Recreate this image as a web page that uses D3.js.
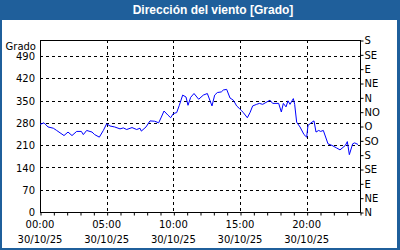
<!doctype html>
<html>
<head>
<meta charset="utf-8">
<script src="https://d3js.org/d3.v7.min.js"></script>
<style>
  body { margin: 0; background: #fff; }
  svg text { font-family: "DejaVu Sans", sans-serif; }
</style>
</head>
<body>
<script>
// hours since 00:00 on 30/10/25
var hours = [0, 0.3, 0.6, 1.0, 1.25, 1.8, 2.1, 2.4, 2.75, 3.1, 3.25, 3.5, 3.9, 4.1, 4.45, 4.75,
  5.0, 5.25, 5.6, 6.0, 6.25, 6.5, 6.9, 7.25, 7.5, 7.6, 7.95, 8.25, 8.6, 8.9, 9.1, 9.3, 9.6, 9.8,
  10.0, 10.25, 10.45, 10.7, 10.95, 11.1, 11.3, 11.55, 11.9, 12.25, 12.55, 12.9, 13.1, 13.3, 13.6,
  13.75, 14.0, 14.25, 14.5, 14.75, 14.95, 15.1, 15.25, 15.55, 15.75, 15.95, 16.25, 16.45, 16.7,
  16.95, 17.25, 17.45, 17.9, 18.1, 18.25, 18.45, 18.6, 18.75, 18.9, 19.0, 19.1, 19.25, 19.5, 19.8,
  20.0, 20.1, 20.4, 20.55, 20.7, 20.9, 21.05, 21.25, 21.6, 21.9, 22.25, 22.5, 22.9, 23.05, 23.2,
  23.45, 23.6, 23.85];
var direction = [275, 280, 267, 263, 256, 240, 251, 240, 253, 253, 243, 256, 251, 243, 235, 256,
  277, 270, 267, 261, 264, 259, 265, 259, 263, 254, 267, 286, 285, 280, 298, 317, 304, 296,
  309, 312, 335, 367, 361, 335, 360, 372, 354, 367, 372, 333, 367, 375, 377,
  383, 385, 358, 351, 333, 325, 319, 312, 296, 312, 333, 338, 341, 338,
  344, 351, 341, 341, 314, 341, 330, 349, 338, 349, 356, 338, 282, 267, 243,
  235, 272, 282, 286, 251, 256, 253, 256, 214, 209, 201, 195, 209, 221, 180,
  214, 217, 212];

var leftTicks = [0, 70, 140, 210, 280, 350, 420, 490];
var rightTicks = [0, 45, 90, 135, 180, 225, 270, 315, 360, 405, 450, 495, 540];
var rightLabels = ["N", "NE", "E", "SE", "S", "SO", "O", "NO", "N", "NE", "E", "SE", "S"];
var timeTicks = [0, 5, 10, 15, 20];
var timeLabels = ["00:00", "05:00", "10:00", "15:00", "20:00"];
var dateLabel = "30/10/25";
var title = "Dirección del viento [Grado]";
var unitLabel = "Grado";

var W = 400, H = 250;
var plot = { left: 40, right: 360, top: 40, bottom: 212 };

var svg = d3.select("body").append("svg")
  .attr("width", W).attr("height", H);

svg.append("rect").attr("width", W).attr("height", H).attr("fill", "#1f5f9b");
svg.append("rect").attr("x", 2).attr("y", 20).attr("width", 395).attr("height", 228).attr("fill", "#fff");

svg.append("text")
  .attr("x", 213).attr("y", 14)
  .attr("text-anchor", "middle")
  .attr("fill", "#fff")
  .style("font-family", "'Liberation Sans', sans-serif")
  .style("font-size", "12px")
  .style("font-weight", "bold")
  .text(title);

var x = d3.scaleLinear().domain([0, 24]).range([plot.left, plot.right]);
var y = d3.scaleLinear().domain([0, 540]).range([plot.bottom, plot.top]);

// grid
svg.append("g").selectAll("line")
  .data(leftTicks.filter(function(d) { return d > 0; }))
  .enter().append("line")
  .attr("x1", plot.left).attr("x2", plot.right)
  .attr("y1", function(d) { return Math.round(y(d)) + 0.5; })
  .attr("y2", function(d) { return Math.round(y(d)) + 0.5; })
  .attr("stroke", "#000").attr("stroke-dasharray", "3,3");

svg.append("g").selectAll("line")
  .data(timeTicks.filter(function(d) { return d > 0; }))
  .enter().append("line")
  .attr("y1", plot.top).attr("y2", plot.bottom)
  .attr("x1", function(d) { return Math.round(x(d)) + 0.5; })
  .attr("x2", function(d) { return Math.round(x(d)) + 0.5; })
  .attr("stroke", "#000").attr("stroke-dasharray", "3,3");

// frame
svg.append("rect")
  .attr("x", plot.left + 0.5).attr("y", plot.top + 0.5)
  .attr("width", plot.right - plot.left).attr("height", plot.bottom - plot.top)
  .attr("fill", "none").attr("stroke", "#000");

// left axis
var yAxis = d3.axisLeft(y).tickValues(leftTicks).tickSize(0).tickPadding(5);
var gl = svg.append("g").attr("transform", "translate(" + plot.left + ",0.5)").call(yAxis);
gl.select(".domain").remove();
gl.selectAll("text").style("font-size", "10px").attr("fill", "#000");

svg.append("text").attr("x", 36).attr("y", 50).attr("text-anchor", "end")
  .style("font-size", "10px").text(unitLabel);

// right axis
var yAxisR = d3.axisRight(y).tickValues(rightTicks).tickSize(3).tickPadding(1)
  .tickFormat(function(d, i) { return rightLabels[i]; });
var gr = svg.append("g").attr("transform", "translate(" + (plot.right + 0.5) + ",0.5)").call(yAxisR);
gr.select(".domain").remove();
gr.selectAll("text").style("font-size", "10px").attr("fill", "#000");

// bottom axis, minor ticks every hour
var xAxis = d3.axisBottom(x).tickValues(d3.range(0, 25)).tickSize(3).tickFormat("");
var gb = svg.append("g").attr("transform", "translate(0.5," + (plot.bottom + 0.5) + ")").call(xAxis);
gb.select(".domain").remove();

var lab = svg.append("g").selectAll("g").data(timeTicks).enter().append("g")
  .attr("transform", function(d) { return "translate(" + x(d) + ",0)"; });
lab.append("text").attr("y", 228).attr("text-anchor", "middle")
  .style("font-size", "10px").text(function(d, i) { return timeLabels[i]; });
lab.append("text").attr("y", 243).attr("text-anchor", "middle")
  .style("font-size", "10px").text(dateLabel);

// series
var line = d3.line()
  .x(function(d, i) { return x(hours[i]); })
  .y(function(d) { return y(d); });

svg.append("path")
  .datum(direction)
  .attr("d", line)
  .attr("fill", "none")
  .attr("stroke", "#0000ff")
  .attr("stroke-width", 1);
</script>
</body>
</html>
